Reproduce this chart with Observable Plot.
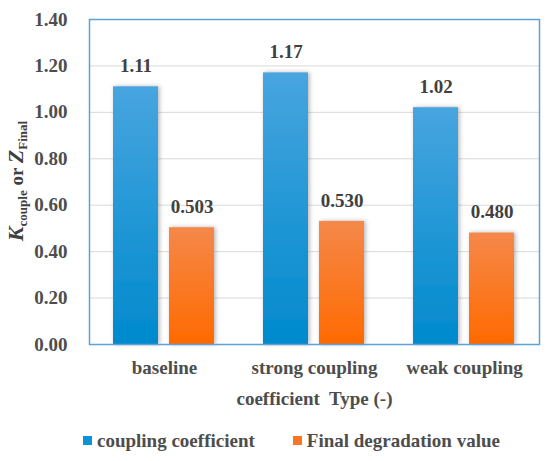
<!DOCTYPE html>
<html>
<head>
<meta charset="utf-8">
<script src="https://cdn.jsdelivr.net/npm/d3@7"></script>
<script src="https://cdn.jsdelivr.net/npm/@observablehq/plot@0.6"></script>
<style>
  body { margin: 0; background: #fff; }
  #chart { width: 550px; }
  .legend { display: flex; align-items: center; padding-left: 83px; height: 41px; font-family: "Liberation Serif", serif; font-weight: bold; font-size: 19px; color: #4d4d4d; white-space: nowrap; }
  .legend .item { display: flex; align-items: center; }
  .legend .sw { width: 9px; height: 9px; margin-right: 5px; }
</style>
</head>
<body>
<div id="chart"></div>
<script>
const types = ["baseline", "strong coupling", "weak coupling"];
const seriesNames = ["coupling coefficient", "Final degradation value"];
const kCouple = [1.11, 1.17, 1.02];
const zFinal = [0.503, 0.530, 0.480];
const kLabels = ["1.11", "1.17", "1.02"];
const zLabels = ["0.503", "0.530", "0.480"];
const yTicks = [0, 0.2, 0.4, 0.6, 0.8, 1.0, 1.2, 1.4];
const xTitle = "coefficient\u00a0 Type (-)";

const rowsK = types.map((t, i) => ({type: t, series: seriesNames[0], value: kCouple[i], label: kLabels[i]}));
const rowsZ = types.map((t, i) => ({type: t, series: seriesNames[1], value: zFinal[i], label: zLabels[i]}));
const rows = rowsK.concat(rowsZ);

const font = "Liberation Serif";
const textColor = "#4d4d4d";

const svg = Plot.plot({
  width: 550,
  height: 420,
  marginLeft: 88,
  marginRight: 10,
  marginTop: 19,
  marginBottom: 76,
  style: "font-family: 'Liberation Serif', serif; font-weight: bold; font-size: 19px; background: #fff;",
  fx: {domain: types, padding: 0, label: null},
  x: {domain: seriesNames, paddingInner: 0.19, paddingOuter: 0.42, axis: null},
  y: {domain: [0, 1.4], label: null},
  marks: [
    Plot.gridY(yTicks, {stroke: "#d9d9d9", strokeOpacity: 1}),
    Plot.barY(rowsK, {fx: "type", x: "series", y: "value", fill: "url(#gBlue)"}),
    Plot.barY(rowsZ, {fx: "type", x: "series", y: "value", fill: "url(#gOrange)"}),
    Plot.text(rows, {fx: "type", x: "series", y: "value", text: "label", dy: -21, fontSize: 19, fontWeight: "bold", fontFamily: font, fill: "#404040"}),
    Plot.axisY({ticks: yTicks, tickFormat: d => d.toFixed(2), tickSize: 0, tickPadding: 22, fontSize: 19, fontWeight: "bold", fontFamily: font, fill: textColor, label: null}),
    Plot.axisFx({anchor: "bottom", tickSize: 0, tickPadding: 16, fontSize: 19, fontWeight: "bold", fontFamily: font, fill: textColor, label: xTitle, labelAnchor: "center", labelOffset: 60}),
    Plot.frame({stroke: "#5ba3d6", strokeWidth: 1.5, facet: "super"})
  ]
});

const s = d3.select(svg);
const defs = s.insert("defs", ":first-child");
const gb = defs.append("linearGradient").attr("id", "gBlue").attr("x1", 0).attr("y1", 0).attr("x2", 0).attr("y2", 1);
gb.append("stop").attr("offset", "0%").attr("stop-color", "#47a5df");
gb.append("stop").attr("offset", "100%").attr("stop-color", "#008acd");
const go = defs.append("linearGradient").attr("id", "gOrange").attr("x1", 0).attr("y1", 0).attr("x2", 0).attr("y2", 1);
go.append("stop").attr("offset", "0%").attr("stop-color", "#f5884a");
go.append("stop").attr("offset", "100%").attr("stop-color", "#ff6a00");
const f = defs.append("filter").attr("id", "shadow").attr("x", "-30%").attr("y", "-10%").attr("width", "160%").attr("height", "120%");
f.append("feDropShadow").attr("dx", 1.5).attr("dy", 0).attr("stdDeviation", 2.2).attr("flood-color", "#777").attr("flood-opacity", 0.55);
s.selectAll("rect").filter(function() { const fl = this.getAttribute("fill") || (this.parentNode && this.parentNode.getAttribute("fill")); return fl && fl.startsWith("url(#g"); }).attr("filter", "url(#shadow)");

// rotated y-axis title with subscripts
const yl = s.append("text")
  .attr("transform", "translate(23,181) rotate(-90)")
  .attr("text-anchor", "middle")
  .attr("font-family", font)
  .attr("font-weight", "bold")
  .attr("fill", "#404040")
  .attr("font-size", 22);
yl.append("tspan").attr("font-style", "italic").text("K");
yl.append("tspan").attr("font-size", 13).attr("dy", 4).text("couple");
yl.append("tspan").attr("dy", -4).attr("font-size", 19).text(" or ");
yl.append("tspan").attr("font-style", "italic").text("Z");
yl.append("tspan").attr("font-size", 13).attr("dy", 4).text("Final");

document.getElementById("chart").appendChild(svg);

const legend = document.createElement("div");
legend.className = "legend";
const colors = ["#0a93d6", "#fb7525"];
seriesNames.forEach((n, i) => {
  const it = document.createElement("div");
  it.className = "item";
  if (i > 0) it.style.marginLeft = "38px";
  const sw = document.createElement("span");
  sw.className = "sw";
  sw.style.background = colors[i];
  const tx = document.createElement("span");
  tx.textContent = n;
  it.appendChild(sw); it.appendChild(tx);
  legend.appendChild(it);
});
document.getElementById("chart").appendChild(legend);
</script>
</body>
</html>
